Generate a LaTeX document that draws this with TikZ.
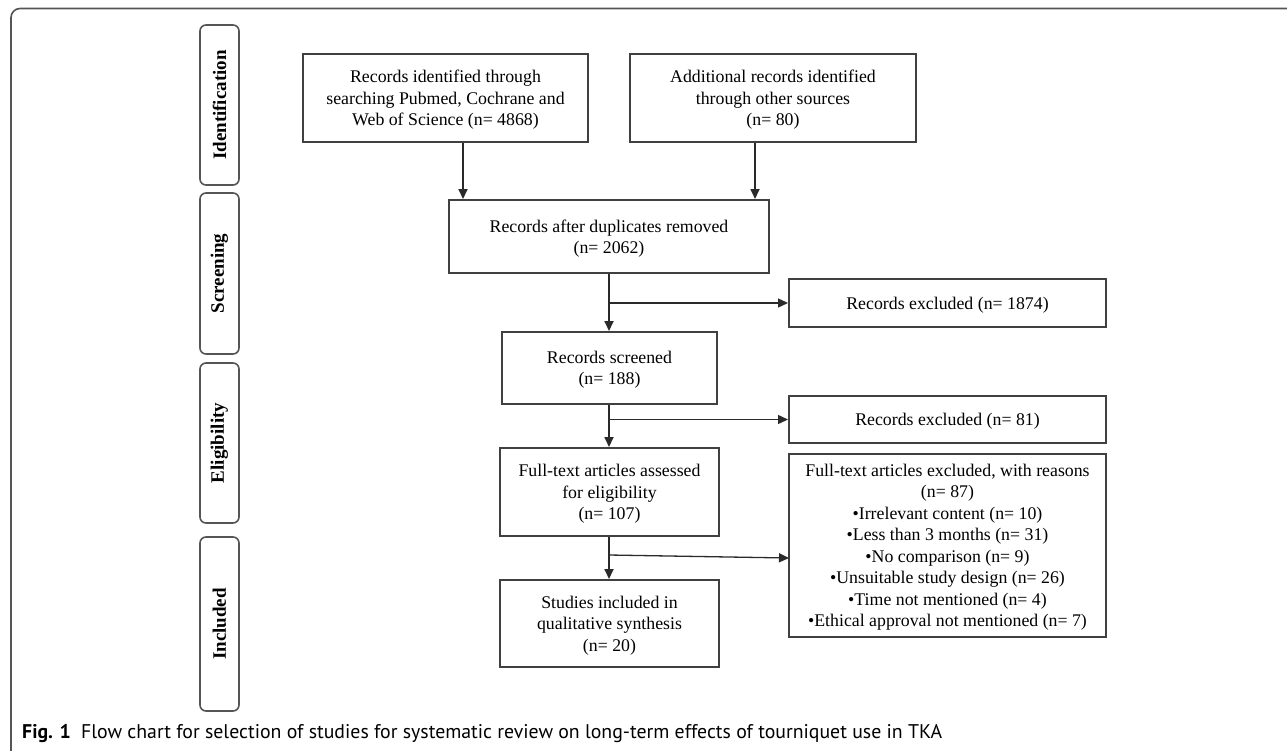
\documentclass[tikz,border=0pt]{standalone}
\usepackage{fontspec}
\setmainfont{Liberation Serif}
\newfontfamily\capfont{PT Sans}
\usetikzlibrary{arrows.meta,calc}
\definecolor{boxline}{HTML}{404040}
\definecolor{stageline}{HTML}{555555}
\definecolor{arrline}{HTML}{2A2A2A}
\tikzset{
  flowbox/.style={draw=boxline, line width=2pt, align=center, inner sep=0pt, text depth=0pt,
    font=\fontsize{17.8}{21.5}\selectfont},
  stagebox/.style={draw=stageline, line width=1.6pt, rounded corners=6pt,
    minimum width=39pt, inner sep=0pt},
  stagetext/.style={rotate=90, font=\bfseries\fontsize{19}{22}\selectfont},
  arr/.style={draw=arrline, line width=1.7pt, -{Triangle[length=10pt,width=9pt]}},
  brarr/.style={draw=arrline, line width=1.3pt, -{Triangle[length=10pt,width=9pt]}},
}
\begin{document}
\begin{tikzpicture}[x=1pt,y=-1pt]
\useasboundingbox (0,0) rectangle (1287,750);
% outer frame
\draw[stageline, line width=1.6pt, rounded corners=9pt] (11,752) -- (11,8.5) -- (1290,8.5);

% stage labels
\node[stagebox, minimum height=160pt] (sid) at (219.5,105) {};
\node[stagetext] (tid) at (sid.center) {Identification};
\node[stagebox, minimum height=161pt] (ssc) at (219.5,273.5) {};
\node[stagetext] (tsc) at (ssc.center) {Screening};
\node[stagebox, minimum height=160pt] (sel) at (219.5,443) {};
\node[stagetext] (tel) at (sel.center) {Eligibility};
\node[stagebox, minimum height=174pt] (sin) at (219.5,624) {};
\node[stagetext] (tin) at (sin.center) {Included};

% flow boxes
\node[flowbox, minimum width=285pt, minimum height=88pt] (b1) at (445.5,98)
  {Records identified through\\searching Pubmed, Cochrane and\\Web of Science (n= 4868)};
\node[flowbox, minimum width=286pt, minimum height=88pt] (b2) at (773,98)
  {Additional records identified\\through other sources\\(n= 80)};
\node[flowbox, minimum width=320pt, minimum height=73pt] (b3) at (609,236.5)
  {Records after duplicates removed\\(n= 2062)};
\node[flowbox, minimum width=215pt, minimum height=72pt] (b4) at (609.5,368)
  {Records screened\\(n= 188)};
\node[flowbox, minimum width=219pt, minimum height=88pt] (b5) at (609.5,492)
  {Full-text articles assessed\\for eligibility\\(n= 107)};
\node[flowbox, minimum width=219pt, minimum height=87pt] (b6) at (609.5,623.5)
  {Studies included in\\qualitative synthesis\\(n= 20)};
\node[flowbox, minimum width=317pt, minimum height=48pt] (e1) at (947.5,303)
  {Records excluded (n= 1874)};
\node[flowbox, minimum width=317pt, minimum height=47pt] (e2) at (947.5,419.5)
  {Records excluded (n= 81)};
\node[flowbox, minimum width=317pt, minimum height=183pt] (e3) at (947.5,545.5)
  {Full-text articles excluded, with reasons\\(n= 87)\\\textbullet Irrelevant content (n= 10)\\\textbullet Less than 3 months (n= 31)\\\textbullet No comparison (n= 9)\\\textbullet Unsuitable study design (n= 26)\\\textbullet Time not mentioned (n= 4)\\\textbullet Ethical approval not mentioned (n= 7)};

% connectors
\coordinate (x1) at (463,0);
\coordinate (x2) at (755,0);
\coordinate (xm) at (609,0);
\coordinate (br3s) at (609,555);
\coordinate (br3e) at (789,558);
\draw[arr] (b1.south -| x1) -- (b3.north -| x1);
\draw[arr] (b2.south -| x2) -- (b3.north -| x2);
\draw[arr] (b3.south -| xm) -- (b4.north -| xm);
\draw[arr] (b4.south -| xm) -- (b5.north -| xm);
\draw[arr] (b5.south -| xm) -- (b6.north -| xm);
\draw[brarr] (xm |- e1.west) -- (e1.west);
\draw[brarr] (xm |- e2.west) -- (e2.west);
\draw[brarr] (br3s) -- (br3e);

% caption
\node[anchor=base west, inner sep=0pt, font=\capfont\fontsize{19.8}{22}\selectfont] (cap) at (22,738.5)
  {\textbf{Fig. 1}\hspace{0.25em} Flow chart for selection of studies for systematic review on long-term effects of tourniquet use in TKA};
\end{tikzpicture}
\end{document}
